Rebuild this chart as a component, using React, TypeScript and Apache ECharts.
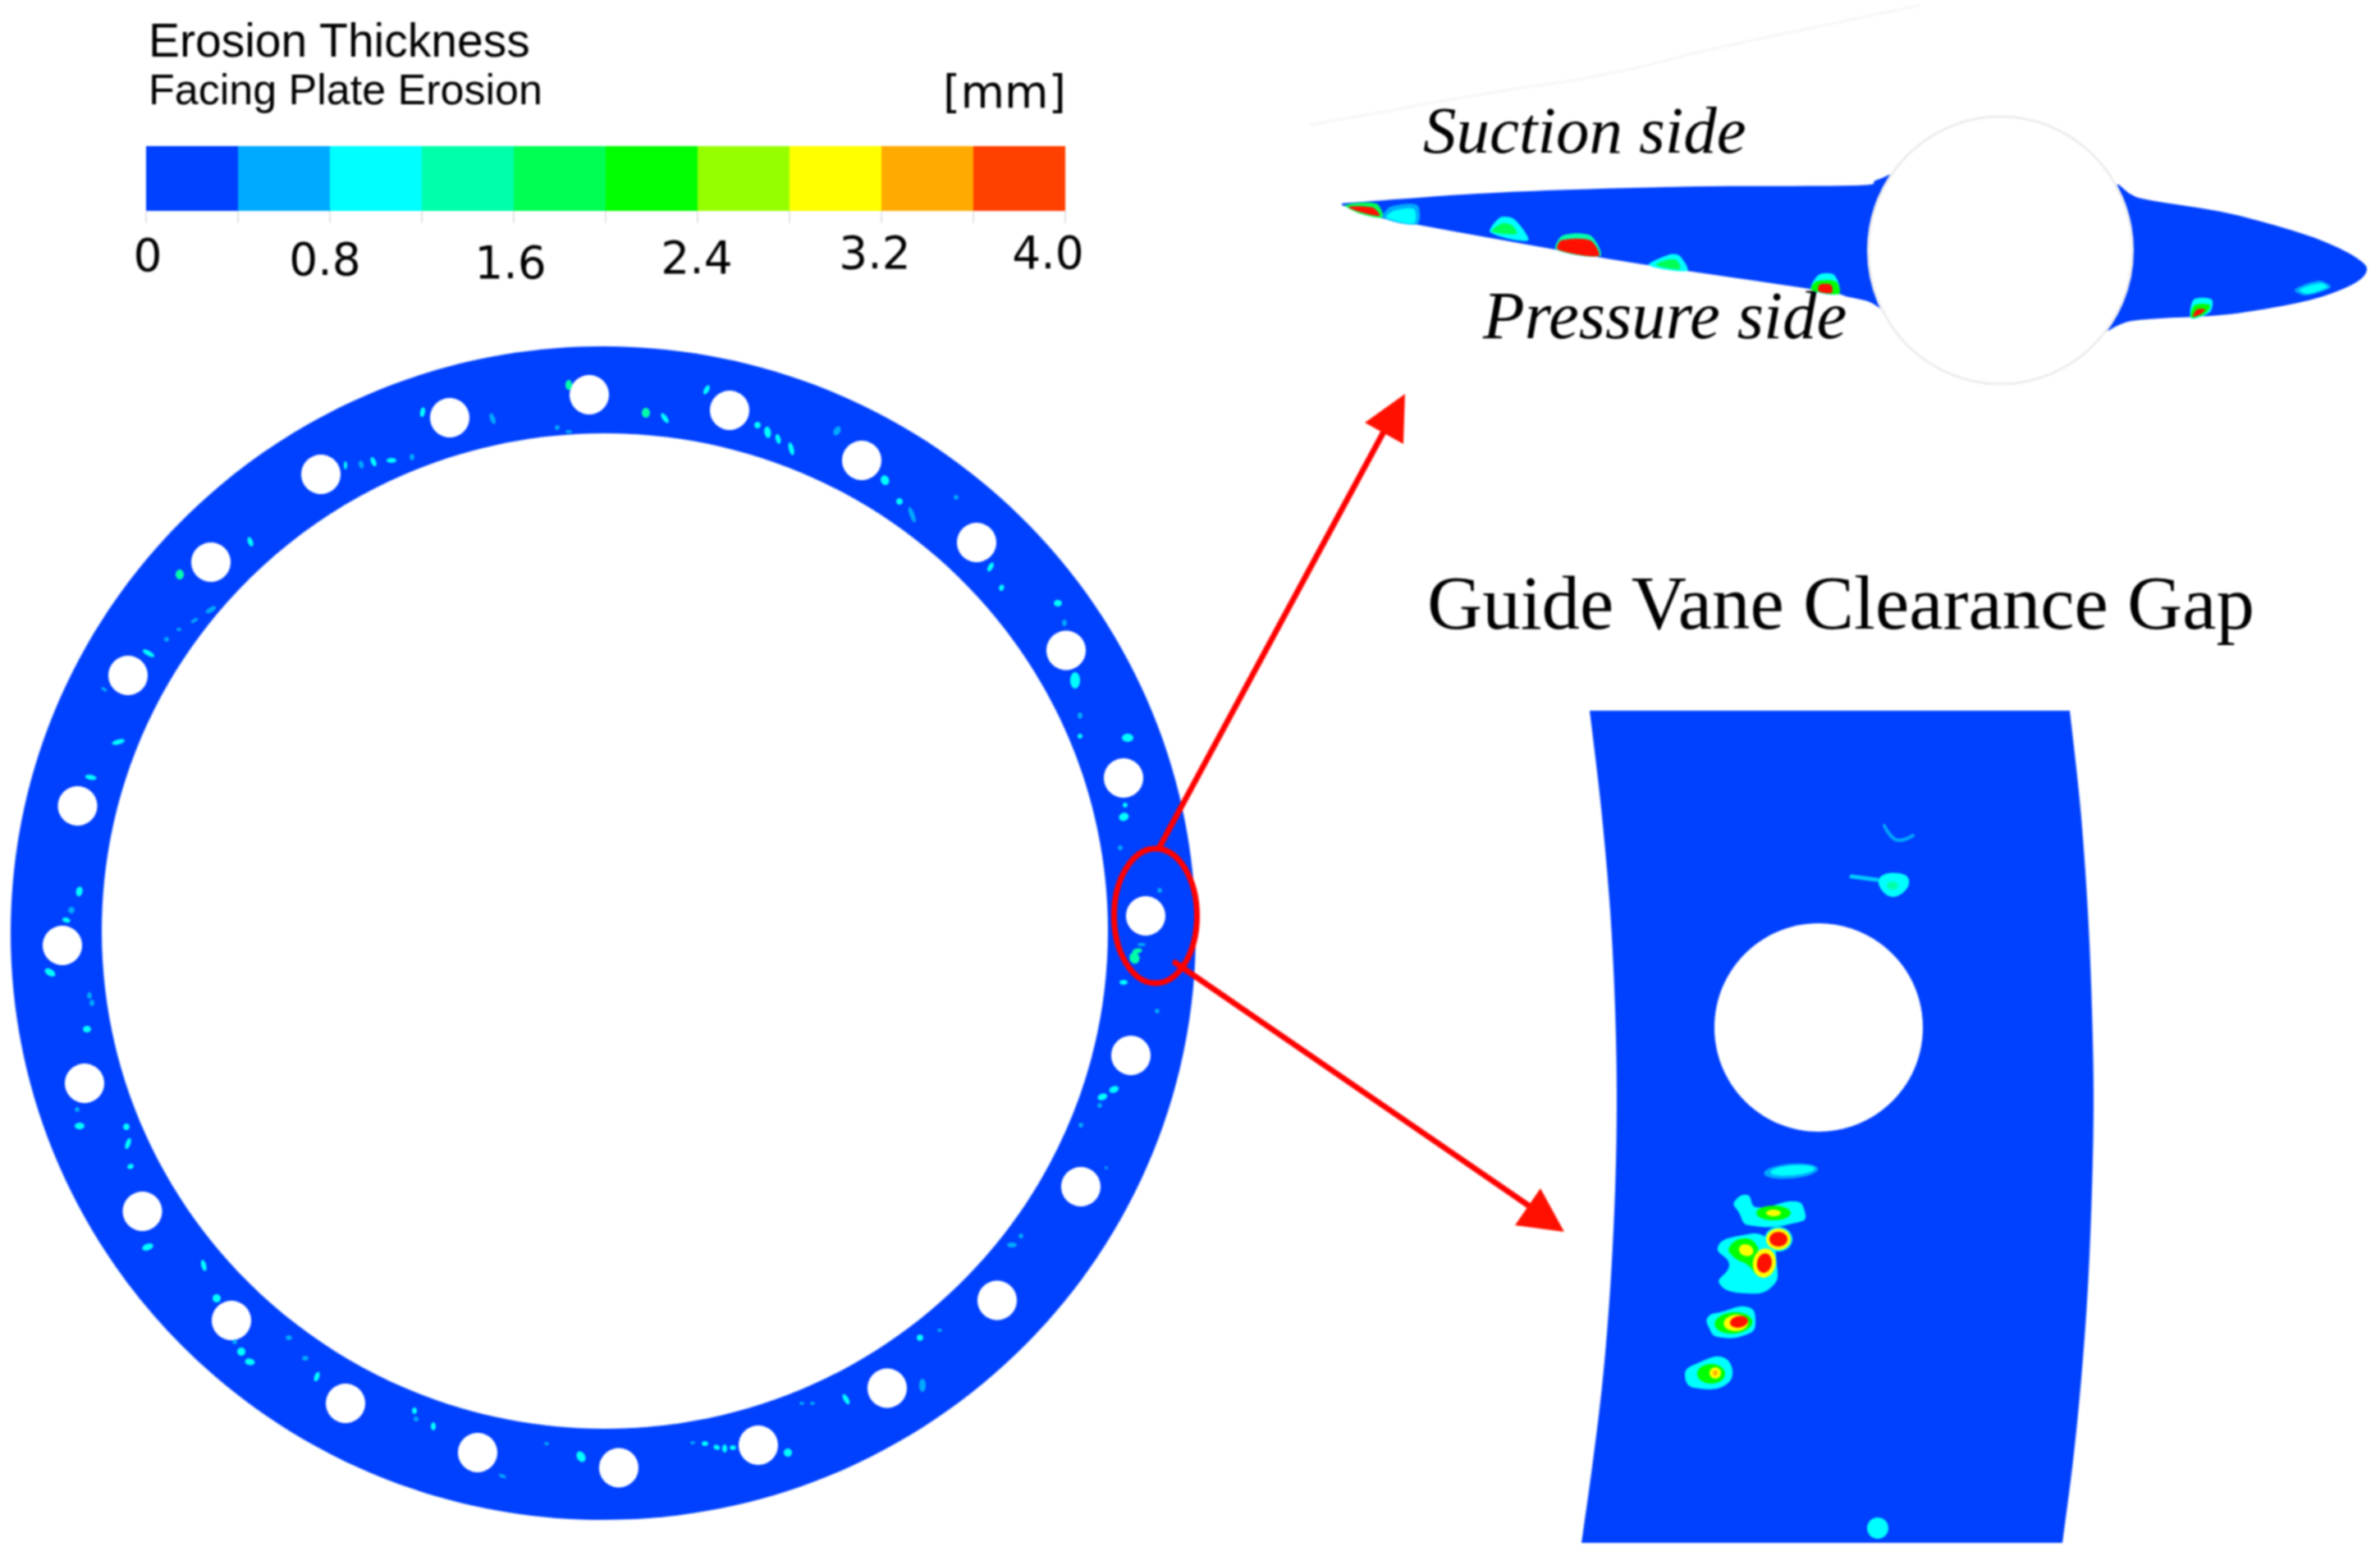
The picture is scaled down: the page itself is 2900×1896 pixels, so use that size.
import React, { useEffect, useRef } from "react";
import * as echarts from "echarts";

type Pt = [number, number];
type Blob = [number, number, number, number, number, number];

const legendColors = ["#0040ff", "#00aaff", "#00ffff", "#00ffaa", "#00ff55", "#00ff00", "#95ff00", "#ffff00", "#ffaa00", "#ff4000"];
const HOT = 10;
const WHITE = 11;
const palette = [...legendColors, "#ff1000", "#ffffff"];

const legendSteps = [0, 0.4, 0.8, 1.2, 1.6, 2, 2.4, 2.8, 3.2, 3.6, 4];
const legendTickText = ["0", "0.8", "1.6", "2.4", "3.2", "4.0"];
const legendTickX = [180, 396, 622, 849, 1066, 1277];
const legendTickY = [311, 316, 320, 314, 308, 308];

const ringBands: Blob[] = [
  [735, 1137, 722, 715, 0, 0],
  [737, 1134.5, 613, 606.5, 0, WHITE],
];

const holeX = [718, 548, 391, 257, 156, 94.5, 76, 103, 173.5, 282, 421, 582, 754, 924, 1081, 1215, 1317, 1378, 1396, 1369, 1299, 1190, 1050, 889];
const holeY = [481, 509, 578, 685, 823, 982, 1152, 1320, 1476, 1609, 1710, 1770, 1788.5, 1761, 1691.5, 1584.5, 1446, 1286, 1116, 948, 792.5, 661, 561, 500];
const holeRadius = 24;

const ringSpots: Blob[] = [
  [693, 469, 4, 6, 0, 3], [515, 502, 3, 6, 10, 2], [600, 510, 3, 7, -20, 1], [421, 567, 2, 5, 0, 2], [440, 566, 3, 5, -15, 1], [455, 563, 3, 6, -25, 2],
  [477, 561, 6, 3, 0, 2], [502, 557, 3, 4, 0, 1], [305, 660, 3, 6, -20, 2], [219, 700, 5, 6, 0, 3], [257, 743, 7, 3, -30, 1], [237, 756, 5, 2, -30, 1],
  [218, 767, 3, 2, 0, 1], [203, 779, 3, 3, 0, 1], [181, 796, 8, 3, 30, 2], [127, 840, 4, 2, 30, 1], [144, 904, 8, 3, -15, 2], [111, 947, 7, 3, 10, 2],
  [97, 1086, 4, 6, 10, 2], [87, 1109, 4, 4, 0, 1], [81, 1121, 5, 3, 15, 2], [679, 521, 3, 3, 0, 1], [693, 526, 4, 2, 0, 1],
  [61, 1185, 7, 4, 30, 2], [109, 1213, 3, 4, 0, 1], [112, 1222, 3, 4, 0, 1], [106, 1254, 5, 4, 0, 2], [94, 1352, 3, 3, 0, 1], [97, 1372, 6, 4, 0, 2],
  [154, 1373, 4, 4, 0, 2], [156, 1393, 3, 7, 20, 2], [159, 1421, 4, 3, -20, 2], [180, 1519, 7, 4, -20, 2], [248, 1542, 3, 7, -15, 2], [264, 1582, 5, 5, 0, 2],
  [286, 1635, 3, 3, 0, 1], [294, 1647, 5, 5, 0, 2], [305, 1659, 6, 4, 10, 2], [352, 1630, 4, 3, 0, 1], [372, 1655, 4, 3, 0, 1], [386, 1677, 3, 6, 20, 2],
  [505, 1719, 3, 4, 0, 2], [507, 1729, 3, 3, 0, 1], [528, 1738, 3, 5, 0, 2], [708, 1775, 5, 7, -30, 2], [612, 1798, 5, 2, 20, 1], [666, 1759, 3, 2, 0, 1],
  [960, 1770, 5, 5, 0, 2], [844, 1758, 3, 2, 0, 1], [859, 1759, 4, 3, 0, 2], [873, 1763, 4, 3, 20, 2], [883, 1765, 3, 5, 0, 2], [893, 1764, 4, 3, 0, 2],
  [977, 1710, 3, 2, 0, 1], [990, 1710, 3, 2, 0, 1], [1031, 1705, 3, 7, -30, 2], [1124, 1688, 4, 8, 0, 1], [1121, 1630, 4, 4, 0, 2], [1145, 1621, 3, 2, 0, 1],
  [1233, 1517, 6, 3, 0, 1], [1244, 1506, 3, 3, 0, 1], [1317, 1371, 3, 3, 0, 1], [1348, 1423, 2, 2, 0, 1], [1340, 1347, 3, 3, 0, 1], [1343, 1336, 6, 4, -20, 2],
  [1357, 1327, 6, 4, -20, 2], [1410, 1232, 3, 3, 0, 1], [1369, 1197, 5, 3, 0, 2], [1382, 1167, 6, 7, -20, 3], [1385, 1159, 6, 3, -10, 3], [1391, 1151, 5, 2, 0, 1],
  [861, 475, 3, 6, 30, 2], [787, 503, 5, 6, 0, 3], [810, 510, 3, 7, -35, 2], [923, 518, 4, 4, 0, 2], [935, 527, 4, 7, -10, 2], [948, 535, 3, 6, -15, 2],
  [964, 547, 3, 8, -15, 2], [1020, 525, 4, 6, 30, 1], [1078, 585, 5, 6, -20, 2], [1096, 611, 4, 4, 0, 2], [1111, 627, 3, 10, -20, 1], [1165, 606, 3, 3, 0, 1],
  [1207, 691, 3, 6, 30, 2], [1220, 716, 3, 4, 20, 2], [1289, 735, 5, 4, 0, 2], [1297, 759, 3, 4, 0, 1], [1310, 829, 6, 10, 0, 2], [1316, 872, 3, 4, 0, 1],
  [1316, 897, 3, 3, 0, 2], [1374, 899, 7, 5, 0, 2], [1371, 981, 3, 3, 0, 2], [1369, 995, 6, 5, -20, 2], [1365, 1033, 3, 3, 0, 1], [1413, 1085, 3, 3, 0, 1],
];

const legendEllipse: Blob = [1408, 1116, 50.5, 82, 0, 0];

const arrowUpLong: Pt[] = [[1413, 1032], [1685, 528]];
const arrowDown: Pt[] = [[1432, 1173], [1864, 1470]];
const arrowHeads: Pt[][] = [
  [[1712, 480], [1663, 515], [1710, 541]],
  [[1877, 1448], [1846, 1493], [1906, 1501]],
];

const vaneSuction: Pt[] = [[1635, 248], [1672, 245], [1800, 236], [1917, 231], [2085, 227], [2262, 226], [2285, 220], [2304, 212]];
const vaneNose: Pt[] = [[2582, 225], [2597, 237], [2620, 244], [2716, 260], [2800, 283], [2845, 300], [2874, 316], [2884, 328], [2874, 342], [2845, 356], [2800, 369], [2716, 383], [2632, 388], [2598, 391], [2582, 396], [2569, 403]];
const vanePressure: Pt[] = [[2294, 378], [2278, 368], [2253, 362], [2211, 353], [2001, 322], [1900, 305], [1723, 273], [1681, 265], [1635, 250]];
const vaneCircle: Blob = [2437.5, 305, 161, 163, 0, WHITE];
const faintCurve: Pt[] = [[1597, 152], [1816, 113], [1960, 90], [2085, 60], [2338, 7]];

const vaneSpots: { level: number; pts: Pt[] }[] = [
  { level: 4, pts: [[1639, 250], [1677, 248], [1685, 265], [1656, 260]] },
  { level: HOT, pts: [[1643, 252], [1673, 253], [1681, 263], [1656, 258]] },
  { level: 1, pts: [[1694, 252], [1727, 250], [1727, 273], [1685, 265]] },
  { level: 2, pts: [[1698, 257], [1723, 255], [1723, 272], [1689, 265]] },
  { level: 2, pts: [[1828, 265], [1845, 267], [1862, 293], [1816, 283]] },
  { level: 4, pts: [[1831, 272], [1843, 275], [1848, 285], [1818, 282]] },
  { level: 3, pts: [[1904, 287], [1938, 287], [1950, 312], [1896, 304]] },
  { level: HOT, pts: [[1902, 293], [1938, 293], [1948, 312], [1898, 304]] },
  { level: 2, pts: [[2035, 310], [2047, 312], [2056, 330], [2009, 323]] },
  { level: 4, pts: [[2030, 317], [2043, 317], [2047, 328], [2018, 323]] },
  { level: 2, pts: [[2216, 335], [2235, 335], [2241, 358], [2207, 353]] },
  { level: 5, pts: [[2213, 343], [2237, 343], [2241, 358], [2207, 353]] },
  { level: HOT, pts: [[2217, 347], [2231, 347], [2232, 357], [2216, 355]] },
  { level: 2, pts: [[2673, 365], [2695, 365], [2693, 380], [2670, 388]] },
  { level: 5, pts: [[2674, 372], [2693, 372], [2687, 382], [2670, 387]] },
  { level: HOT, pts: [[2677, 377], [2687, 377], [2681, 383], [2672, 386]] },
  { level: 1, pts: [[2826, 342], [2840, 350], [2809, 360], [2796, 353]] },
  { level: 2, pts: [[2828, 345], [2836, 350], [2812, 358], [2802, 353]] },
];

const gapLeftEdge: Pt[] = [[1937, 866], [1951, 985], [1962, 1110], [1968, 1230], [1970, 1340], [1968, 1450], [1962, 1570], [1953, 1680], [1941, 1780], [1927, 1880]];
const gapRightEdge: Pt[] = [[2513, 1880], [2526, 1780], [2536, 1680], [2544, 1570], [2549, 1450], [2551, 1340], [2549, 1230], [2544, 1110], [2535, 985], [2522, 866]];
const gapHole: Blob = [2216, 1252, 127, 127, 0, WHITE];
const gapTickA: Pt[] = [[2296, 1006], [2314, 1024], [2331, 1018]];
const gapTickB: Pt[] = [[2256, 1068], [2287, 1072]];

const gapPatches: { level: number; pts: Pt[] }[] = [
  { level: 2, pts: [[2290, 1070], [2321, 1066], [2324, 1082], [2302, 1092]] },
  { level: 2, pts: [[2113, 1465], [2129, 1456], [2140, 1471], [2189, 1464], [2199, 1476], [2196, 1488], [2131, 1493], [2118, 1476]] },
  { level: 2, pts: [[2093, 1520], [2118, 1506], [2154, 1509], [2165, 1541], [2160, 1567], [2129, 1576], [2095, 1564], [2107, 1541]] },
  { level: 5, pts: [[2107, 1520], [2127, 1509], [2142, 1520], [2140, 1532], [2158, 1547], [2145, 1555], [2129, 1541], [2113, 1532]] },
  { level: 2, pts: [[2081, 1605], [2096, 1599], [2131, 1593], [2139, 1611], [2131, 1625], [2093, 1629], [2082, 1617]] },
  { level: 2, pts: [[2053, 1675], [2064, 1663], [2102, 1655], [2107, 1684], [2064, 1691]] },
];

const gapSpots: Blob[] = [
  [2306, 1079, 7, 5, 0, 3],
  [2183, 1427, 33, 9, -5, 1], [2185, 1426, 27, 6, -5, 2],
  [2161, 1478, 21, 9, 0, 5], [2161, 1478, 9, 4, 0, 7],
  [2127, 1523, 9, 7, 20, 7],
  [2167, 1510, 17, 15, 0, 2], [2167, 1510, 15, 13, 0, 7], [2167, 1510, 11, 9, 0, HOT],
  [2150, 1538, 14, 18, 10, 7], [2150, 1538, 9, 12, 10, HOT],
  [2113, 1612, 23, 13, -5, 5], [2116, 1612, 15, 10, -5, 7], [2118, 1611, 11, 7, -10, HOT],
  [2085, 1674, 17, 12, 0, 5], [2090, 1673, 7, 7, 0, 7], [2090, 1673, 3, 3, 0, 8],
  [2288, 1862, 13, 13, 0, 2],
];

const textLabels = [
  { text: "Erosion Thickness", x: 181, y: 77, font: "57px 'Liberation Sans', sans-serif", align: "left" },
  { text: "Facing Plate Erosion", x: 181, y: 135, font: "52px 'Liberation Sans', sans-serif", align: "left" },
  { text: "[mm]", x: 1299, y: 139, font: "55px 'DejaVu Sans', sans-serif", align: "right" },
  { text: "Suction side", x: 1734, y: 199, font: "italic 81px 'Liberation Serif', serif", align: "left" },
  { text: "Pressure side", x: 1807, y: 425, font: "italic 83px 'Liberation Serif', serif", align: "left" },
  { text: "Guide Vane Clearance Gap", x: 1739, y: 781, font: "93px 'Liberation Serif', serif", align: "left" },
];

function smoothSection(pts: Pt[], steps = 8): Pt[] {
  const out: Pt[] = [];
  for (let i = 0; i < pts.length - 1; i++) {
    const p0 = pts[Math.max(i - 1, 0)];
    const p1 = pts[i];
    const p2 = pts[i + 1];
    const p3 = pts[Math.min(i + 2, pts.length - 1)];
    for (let s = 0; s < steps; s++) {
      const t = s / steps;
      const c = (a: number, b: number, d: number, e: number) =>
        0.5 * (2 * b + (d - a) * t + (2 * a - 5 * b + 4 * d - e) * t * t + (3 * b - a - 3 * d + e) * t * t * t);
      out.push([c(p0[0], p1[0], p2[0], p3[0]), c(p0[1], p1[1], p2[1], p3[1])]);
    }
  }
  out.push(pts[pts.length - 1]);
  return out;
}

let zCounter = 2;

function ellipseSeries(name: string, data: Blob[], stroke?: { color: string; width: number }) {
  return {
    type: "custom",
    name,
    z: zCounter++,
    silent: true,
    clip: false,
    xAxisIndex: 0,
    yAxisIndex: 0,
    encode: { x: 0, y: 1 },
    data,
    renderItem: (_p: any, api: any) => {
      const c = api.coord([api.value(0), api.value(1)]);
      const s = api.size([api.value(2) * 2, api.value(3) * 2], [api.value(0), api.value(1)]);
      return {
        type: "ellipse",
        shape: { cx: c[0], cy: c[1], rx: s[0] / 2, ry: s[1] / 2 },
        rotation: (-api.value(4) * Math.PI) / 180,
        originX: c[0],
        originY: c[1],
        style: stroke ? { fill: "none", stroke: stroke.color, lineWidth: stroke.width } : { fill: palette[api.value(5)] },
      };
    },
  };
}

function polygonSeries(name: string, polys: { level: number; pts: Pt[] }[], smooth = 0) {
  return {
    type: "custom",
    name,
    z: zCounter++,
    silent: true,
    clip: false,
    xAxisIndex: 0,
    yAxisIndex: 0,
    encode: { x: 0, y: 1 },
    data: polys.map((p) => [p.pts[0][0], p.pts[0][1]]),
    renderItem: (params: any, api: any) => {
      const poly = polys[params.dataIndex];
      return {
        type: "polygon",
        shape: { points: poly.pts.map((q) => api.coord(q)), smooth },
        style: { fill: palette[poly.level] },
      };
    },
  };
}

function lineSeries(name: string, pts: Pt[], color: string, width: number, smooth = false) {
  return {
    type: "line",
    name,
    z: zCounter++,
    silent: true,
    clip: false,
    xAxisIndex: 0,
    yAxisIndex: 0,
    data: pts,
    smooth,
    symbol: "none",
    lineStyle: { color, width, cap: "round" },
  };
}

export default function App() {
  const ref = useRef<HTMLDivElement>(null);
  useEffect(() => {
    if (!ref.current) return;
    const chart = echarts.init(ref.current, undefined, { renderer: "svg" });
    zCounter = 2;

    const holes: Blob[] = holeX.map((x, i) => [x, holeY[i], holeRadius, holeRadius, 0, WHITE]);
    const vaneOutline: Pt[] = [...smoothSection(vaneSuction), ...smoothSection(vaneNose), ...smoothSection(vanePressure)];
    const gapOutline: Pt[] = [...smoothSection(gapLeftEdge), ...smoothSection(gapRightEdge)];
    const legendData = legendColors.map((_, i) => [legendSteps[i], legendSteps[i + 1], i]);

    chart.setOption({
      animation: false,
      backgroundColor: "#ffffff",
      tooltip: { show: false },
      grid: [
        { left: 0, top: 0, width: 2900, height: 1896, containLabel: false },
        { left: 178, top: 178, width: 1120, height: 79, containLabel: false },
      ],
      xAxis: [
        { type: "value", min: 0, max: 2900, show: false, gridIndex: 0 },
        {
          type: "value",
          min: 0,
          max: 4,
          interval: 0.4,
          gridIndex: 1,
          axisLine: { show: false },
          axisLabel: { show: false },
          splitLine: { show: false },
          axisTick: { show: true, length: 15, lineStyle: { color: "#e4e4e4", width: 2 } },
        },
      ],
      yAxis: [
        { type: "value", min: 0, max: 1896, inverse: true, show: false, gridIndex: 0 },
        { type: "value", min: 0, max: 1, show: false, gridIndex: 1 },
      ],
      series: [
        ellipseSeries("ring", ringBands),
        ellipseSeries("holes", holes),
        ellipseSeries("ring erosion", ringSpots),
        polygonSeries("gap panel", [{ level: 0, pts: gapOutline }]),
        ellipseSeries("gap hole", [gapHole]),
        lineSeries("gap tick a", gapTickA, "#00aaff", 4, true),
        lineSeries("gap tick b", gapTickB, "#00ccff", 5),
        polygonSeries("gap erosion patches", gapPatches, 0.5),
        ellipseSeries("gap erosion", gapSpots),
        lineSeries("faint curve", faintCurve, "#f6f6f6", 3, true),
        polygonSeries("vane", [{ level: 0, pts: vaneOutline }]),
        polygonSeries("vane erosion", vaneSpots, 0.3),
        ellipseSeries("vane circle", [vaneCircle]),
        ellipseSeries("vane circle edge", [vaneCircle], { color: "#ececec", width: 3 }),
        lineSeries("arrow up", arrowUpLong, "#ff0000", 7),
        lineSeries("arrow down", arrowDown, "#ff0000", 7),
        polygonSeries("arrow heads", arrowHeads.map((pts) => ({ level: HOT, pts }))),
        ellipseSeries("marker", [legendEllipse], { color: "#ff0000", width: 7 }),
        {
          type: "custom",
          name: "legend",
          z: zCounter++,
          silent: true,
          xAxisIndex: 1,
          yAxisIndex: 1,
          encode: { x: [0, 1] },
          data: legendData,
          renderItem: (_p: any, api: any) => {
            const a = api.coord([api.value(0), 1]);
            const b = api.coord([api.value(1), 0]);
            return {
              type: "rect",
              shape: { x: a[0], y: a[1], width: b[0] - a[0], height: b[1] - a[1] },
              style: { fill: legendColors[api.value(2)] },
            };
          },
        },
      ],
      graphic: [
        ...legendTickText.map((text, i) => ({
          type: "text",
          x: legendTickX[i],
          y: legendTickY[i],
          style: { text, fill: "#000000", font: "55px 'DejaVu Sans', sans-serif", textAlign: "center", textVerticalAlign: "middle" },
        })),
        ...textLabels.map((t) => ({
          type: "text",
          x: t.x,
          y: t.y,
          style: { text: t.text, fill: "#000000", font: t.font, textAlign: t.align, textVerticalAlign: "bottom" },
        })),
      ],
    });
    return () => chart.dispose();
  }, []);
  return <div ref={ref} style={{ position: "absolute", left: 0, top: 0, width: 2900, height: 1896, filter: "blur(1px)" }} />;
}
